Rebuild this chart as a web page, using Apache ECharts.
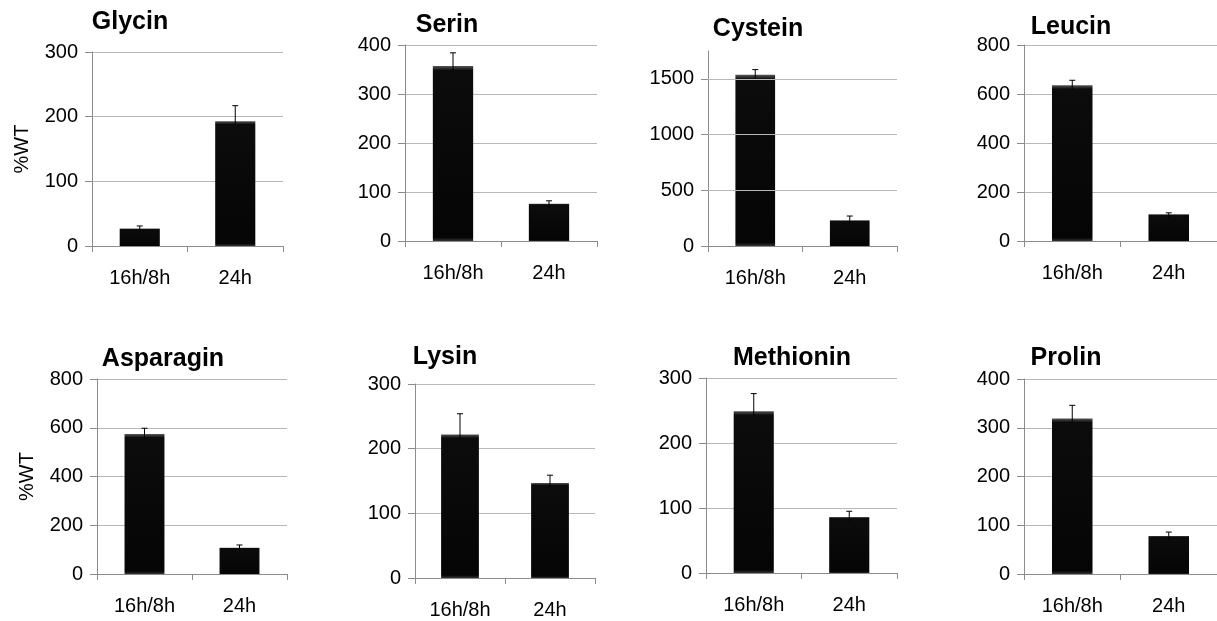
<!DOCTYPE html>
<html>
<head>
<meta charset="utf-8">
<script src="https://cdn.jsdelivr.net/npm/echarts@6/dist/echarts.min.js"></script>
<style>
html,body{margin:0;padding:0;background:#fff;}
#c{width:1217px;height:621px;}
</style>
</head>
<body>
<div id="c"></div>
<script>
// ---- data ----
const categories = ['16h/8h', '24h'];
const titles = ['Glycin', 'Serin', 'Cystein', 'Leucin', 'Asparagin', 'Lysin', 'Methionin', 'Prolin'];
const glycin = [27, 193];      const glycinErr = [4, 24];
const serin = [357, 76];       const serinErr = [27, 6];
const cystein = [1536, 230];   const cysteinErr = [47, 39];
const leucin = [636, 109];     const leucinErr = [20, 6];
const asparagin = [574, 108];  const asparaginErr = [24, 11];
const lysin = [222, 147];      const lysinErr = [32, 12];
const methionin = [249, 86];   const methioninErr = [27, 9];
const prolin = [319, 78];      const prolinErr = [27, 8];
const axisMax = [300, 400, 1750, 800, 800, 300, 300, 400];
const axisInterval = [100, 100, 500, 200, 200, 100, 100, 100];
const cysteinTicks = [0, 500, 1000, 1500];
const yName = '%WT';

const values = [glycin, serin, cystein, leucin, asparagin, lysin, methionin, prolin];
const errors = [glycinErr, serinErr, cysteinErr, leucinErr, asparaginErr, lysinErr, methioninErr, prolinErr];

// ---- layout ----
const grids = [
  {left: 92, top: 52, width: 191, height: 194},
  {left: 405, top: 45, width: 192, height: 196},
  {left: 708, top: 51, width: 189, height: 195},
  {left: 1024, top: 45, width: 193, height: 196},
  {left: 97, top: 379, width: 190, height: 195},
  {left: 415, top: 384, width: 180, height: 194},
  {left: 706, top: 378, width: 191, height: 195},
  {left: 1024, top: 379, width: 193, height: 195}
];
const titlePos = [[130, 22], [447, 25], [758, 29], [1071, 27], [163, 359], [445, 357], [792, 358], [1066, 358]];

const FONT = '"Liberation Sans", Arial, sans-serif';
const option = {
  backgroundColor: '#fff',
  animation: false,
  title: [], grid: [], xAxis: [], yAxis: [], series: []
};

titles.forEach((t, i) => {
  const g = grids[i];
  option.title.push({
    text: t, left: titlePos[i][0], top: titlePos[i][1], padding: 0,
    textAlign: 'center', textVerticalAlign: 'middle',
    textStyle: {fontFamily: FONT, fontSize: 25, fontWeight: 'bold', color: '#000'}
  });
  option.grid.push({left: g.left, top: g.top, width: g.width, height: g.height, containLabel: false});
  option.xAxis.push({
    type: 'category', gridIndex: i, data: categories,
    axisLine: {lineStyle: {color: '#8c8c8c', width: 1}},
    axisTick: {show: true, alignWithLabel: false, length: 6, lineStyle: {color: '#8c8c8c'}},
    axisLabel: {fontFamily: FONT, fontSize: 20, color: '#000', margin: 22, interval: 0}
  });
  const isCys = i === 2;
  const y = {
    type: 'value', gridIndex: i, min: 0, max: axisMax[i], interval: axisInterval[i],
    axisLine: {show: true, lineStyle: {color: '#8c8c8c', width: 1}},
    axisTick: {show: true, length: 7, lineStyle: {color: '#8c8c8c'}},
    axisLabel: {fontFamily: FONT, fontSize: 20, color: '#000', margin: 14,
      formatter: function (v) { return String(v); }},
    splitLine: {show: !isCys, lineStyle: {color: '#b8b8b8', width: 1}}
  };
  if (isCys) {
    y.axisTick.customValues = cysteinTicks;
    y.axisLabel.customValues = cysteinTicks;
  }
  if (i === 0 || i === 4) {
    y.name = yName;
    y.nameLocation = 'middle';
    y.nameGap = 60;
    y.nameTextStyle = {fontFamily: FONT, fontSize: 20, color: '#000'};
  }
  option.yAxis.push(y);

  const bar = {
    type: 'bar', xAxisIndex: i, yAxisIndex: i, data: values[i],
    barWidth: '42%',
    itemStyle: {
      color: {type: 'linear', x: 0, y: 0, x2: 0, y2: 1, colorStops: [
        {offset: 0, color: '#555555'}, {offset: 0.025, color: '#0c0c0c'},
        {offset: 0.98, color: '#050505'}, {offset: 1, color: '#333333'}]}
    },
    z: 2
  };
  if (isCys) {
    bar.markLine = {
      silent: true, symbol: 'none', label: {show: false},
      lineStyle: {color: '#b8b8b8', width: 1, type: 'solid'},
      data: cysteinTicks.filter(v => v > 0).map(v => ({yAxis: v}))
    };
  }
  option.series.push(bar);

  option.series.push({
    type: 'custom', xAxisIndex: i, yAxisIndex: i, z: 5,
    data: values[i].map((v, k) => [k, v, errors[i][k]]),
    renderItem: function (params, api) {
      const k = api.value(0), v = api.value(1), e = api.value(2);
      const top = api.coord([k, v + e]);
      const base = api.coord([k, v]);
      const hw = 3;
      const st = {stroke: '#000', lineWidth: 1};
      return {type: 'group', children: [
        {type: 'line', shape: {x1: top[0], y1: top[1], x2: base[0], y2: base[1] + 4}, style: st},
        {type: 'line', shape: {x1: top[0] - hw, y1: top[1], x2: top[0] + hw, y2: top[1]}, style: st}
      ]};
    }
  });
});

const chart = echarts.init(document.getElementById('c'), null, {renderer: 'canvas'});
chart.setOption(option);
</script>
</body>
</html>
